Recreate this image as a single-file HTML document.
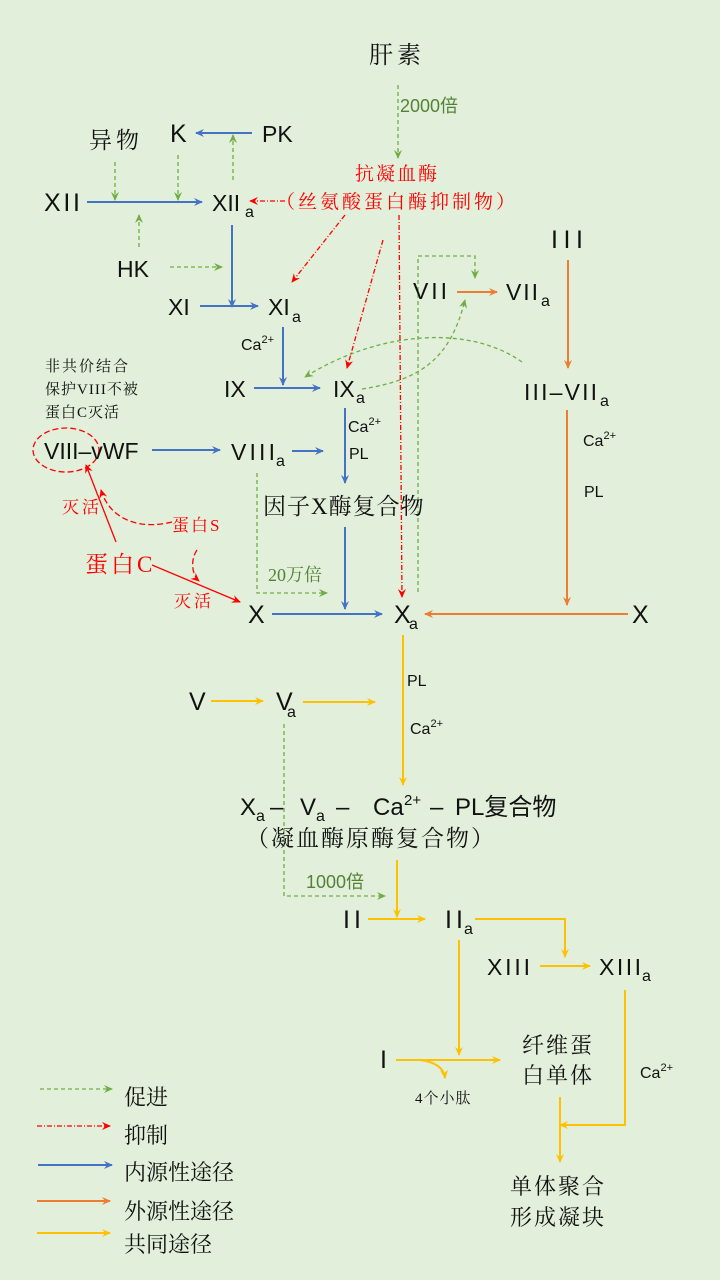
<!DOCTYPE html>
<html><head><meta charset="utf-8"><style>
html,body{margin:0;padding:0;background:#e2efda;}
svg{display:block;}
text{font-family:"Liberation Sans","Noto Sans CJK SC",sans-serif;fill:#111;}
.n{font-size:25px;}
.m{font-size:23px;}
.cn{font-family:"Liberation Serif","Noto Serif CJK SC",serif;}
</style></head><body>
<svg width="720" height="1280" viewBox="0 0 720 1280" xmlns="http://www.w3.org/2000/svg">
<defs>
<marker id="g" markerWidth="10" markerHeight="10" refX="8" refY="5" orient="auto" markerUnits="userSpaceOnUse"><path d="M0,1 L9,5 L0,9 L3,5z" fill="#70ad47"/></marker>
<marker id="r" markerWidth="10" markerHeight="10" refX="8" refY="5" orient="auto" markerUnits="userSpaceOnUse"><path d="M0,1 L9,5 L0,9 L3,5z" fill="#ff0000"/></marker>
<marker id="b" markerWidth="10" markerHeight="10" refX="8" refY="5" orient="auto" markerUnits="userSpaceOnUse"><path d="M0,1 L9,5 L0,9 L3,5z" fill="#4472c4"/></marker>
<marker id="o" markerWidth="10" markerHeight="10" refX="8" refY="5" orient="auto" markerUnits="userSpaceOnUse"><path d="M0,1 L9,5 L0,9 L3,5z" fill="#ed7d31"/></marker>
<marker id="y" markerWidth="10" markerHeight="10" refX="8" refY="5" orient="auto" markerUnits="userSpaceOnUse"><path d="M0,1 L9,5 L0,9 L3,5z" fill="#ffc000"/></marker>
</defs>
<rect width="720" height="1280" fill="#e2efda"/>

<g fill="none" stroke-width="1.3">
<g stroke="#70ad47" stroke-dasharray="4,3">
<path d="M398,85 V158" marker-end="url(#g)"/>
<path d="M233,180 V135" marker-end="url(#g)"/>
<path d="M115,162 V200" marker-end="url(#g)"/>
<path d="M178,155 V200" marker-end="url(#g)"/>
<path d="M139,247 V215" marker-end="url(#g)"/>
<path d="M170,267 H222" marker-end="url(#g)"/>
<path d="M418,592 V256 H475 V278" marker-end="url(#g)"/>
<path d="M522,362 C470,325 380,330 305,377" marker-end="url(#g)"/>
<path d="M362,389 C420,380 450,360 465,300" marker-end="url(#g)"/>
<path d="M257,473 V593 H327" marker-end="url(#g)"/>
<path d="M284,724 V896 H385" marker-end="url(#g)"/>
<path d="M40,1089 H112" marker-end="url(#g)"/>
</g>
<g stroke="#ff0000" stroke-dasharray="5,2,1,2">
<path d="M285,201 H250" marker-end="url(#r)"/>
<path d="M345,215 L292,282" marker-end="url(#r)"/>
<path d="M383,240 L347,368" marker-end="url(#r)"/>
<path d="M399,215 L402,597" marker-end="url(#r)"/>
<path d="M37,1126 H110" marker-end="url(#r)"/>
</g>
<g stroke="#ff0000" stroke-dasharray="6,3">
<ellipse cx="66" cy="450" rx="33" ry="22"/>
<path d="M172,522 C140,530 110,520 101,490" marker-end="url(#r)"/>
<path d="M197,550 C190,560 192,575 199,581" marker-end="url(#r)"/>
</g>
<g stroke="#ff0000">
<path d="M116,542 L86,465" marker-end="url(#r)"/>
<path d="M152,565 L240,602" marker-end="url(#r)"/>
</g>
<g stroke="#4472c4" stroke-width="2">
<path d="M252,133 H196" marker-end="url(#b)"/>
<path d="M87,202 H202" marker-end="url(#b)"/>
<path d="M232,225 V307" marker-end="url(#b)"/>
<path d="M200,306 H258" marker-end="url(#b)"/>
<path d="M283,327 V385" marker-end="url(#b)"/>
<path d="M254,388 H320" marker-end="url(#b)"/>
<path d="M345,408 V483" marker-end="url(#b)"/>
<path d="M152,450 H220" marker-end="url(#b)"/>
<path d="M292,451 H323" marker-end="url(#b)"/>
<path d="M345,527 V609" marker-end="url(#b)"/>
<path d="M272,614 H382" marker-end="url(#b)"/>
<path d="M38,1165 H112" marker-end="url(#b)"/>
</g>
<g stroke="#ed7d31" stroke-width="2">
<path d="M457,292 H497" marker-end="url(#o)"/>
<path d="M568,260 V368" marker-end="url(#o)"/>
<path d="M567,410 V605" marker-end="url(#o)"/>
<path d="M628,614 H425" marker-end="url(#o)"/>
<path d="M37,1201 H110" marker-end="url(#o)"/>
</g>
<g stroke="#ffc000" stroke-width="2">
<path d="M403,635 V785" marker-end="url(#y)"/>
<path d="M211,701 H263" marker-end="url(#y)"/>
<path d="M303,702 H375" marker-end="url(#y)"/>
<path d="M397,860 V917" marker-end="url(#y)"/>
<path d="M368,919 H425" marker-end="url(#y)"/>
<path d="M475,919 H565 V957" marker-end="url(#y)"/>
<path d="M540,966 H590" marker-end="url(#y)"/>
<path d="M459,940 V1055" marker-end="url(#y)"/>
<path d="M396,1060 H500" marker-end="url(#y)"/>
<path d="M420,1060 C435,1062 444,1068 445,1078" marker-end="url(#y)"/>
<path d="M625,990 V1125 H560" marker-end="url(#y)"/>
<path d="M560,1097 V1162" marker-end="url(#y)"/>
<path d="M37,1233 H110" marker-end="url(#y)"/>
</g>
</g>

<text x="397" y="63" font-size="24" text-anchor="middle" class="cn" letter-spacing="4">肝素</text>
<text x="400" y="112" font-size="18" style="fill:#548235">2000倍</text>
<text x="397" y="180" font-size="19" text-anchor="middle" style="fill:#ff0000" class="cn" letter-spacing="2">抗凝血酶</text>
<text x="397" y="208" font-size="19" text-anchor="middle" style="fill:#ff0000" class="cn" letter-spacing="3">（丝氨酸蛋白酶抑制物）</text>

<text x="89" y="148" font-size="23" class="cn" letter-spacing="4">异物</text>
<text x="170" y="142" class="n">K</text>
<text x="262" y="142" class="m">PK</text>
<text x="44" y="211" class="n" textLength="36" lengthAdjust="spacing">XII</text>
<text x="212" y="211" class="m">XII</text><text x="245" y="217" font-size="16">a</text>
<text x="117" y="277" class="m">HK</text>
<text x="168" y="315" class="m">XI</text>
<text x="268" y="315" class="m">XI</text><text x="292" y="322" font-size="16">a</text>
<text x="241" y="350" font-size="16">Ca<tspan font-size="11" dy="-7">2+</tspan></text>
<text x="224" y="397" class="m">IX</text>
<text x="333" y="397" class="m">IX</text><text x="356" y="403" font-size="16">a</text>
<text x="348" y="432" font-size="16">Ca<tspan font-size="11" dy="-7">2+</tspan></text>
<text x="349" y="459" font-size="16">PL</text>
<text x="413" y="299" class="m" textLength="34" lengthAdjust="spacing">VII</text>
<text x="506" y="300" class="m" textLength="32" lengthAdjust="spacing">VII</text><text x="541" y="306" font-size="16">a</text>
<text x="551" y="248" class="n" textLength="32" lengthAdjust="spacing">III</text>
<text x="524" y="400" class="m" textLength="73" lengthAdjust="spacing">III–VII</text><text x="600" y="406" font-size="16">a</text>
<text x="583" y="446" font-size="16">Ca<tspan font-size="11" dy="-7">2+</tspan></text>
<text x="584" y="497" font-size="16">PL</text>

<text x="45" y="371" font-size="15" class="cn" letter-spacing="2">非共价结合</text>
<text x="45" y="394" font-size="15" class="cn" letter-spacing="1">保护VIII不被</text>
<text x="45" y="417" font-size="15" class="cn" letter-spacing="1">蛋白C灭活</text>
<text x="44" y="459" class="m">VIII–vWF</text>
<text x="231" y="460" class="m" textLength="44" lengthAdjust="spacing">VIII</text><text x="276" y="466" font-size="16">a</text>
<text x="263" y="514" font-size="23" class="cn" letter-spacing="1">因子X酶复合物</text>
<text x="62" y="513" font-size="17" style="fill:#ff0000" class="cn" letter-spacing="3">灭活</text>
<text x="172" y="531" font-size="17" style="fill:#ff0000" class="cn" letter-spacing="2">蛋白S</text>
<text x="85" y="572" font-size="23" style="fill:#ff0000" class="cn" letter-spacing="3">蛋白C</text>
<text x="174" y="607" font-size="17" style="fill:#ff0000" class="cn" letter-spacing="3">灭活</text>
<text x="268" y="581" font-size="18" style="fill:#548235" class="cn">20万倍</text>
<text x="248" y="623" class="n">X</text>
<text x="394" y="623" class="n">X</text><text x="409" y="629" font-size="16">a</text>
<text x="632" y="623" class="n">X</text>
<text x="407" y="686" font-size="16">PL</text>
<text x="410" y="734" font-size="16">Ca<tspan font-size="11" dy="-7">2+</tspan></text>
<text x="189" y="710" class="n">V</text>
<text x="276" y="710" class="n">V</text><text x="287" y="717" font-size="16">a</text>

<text x="240" y="815" font-size="24">X</text><text x="256" y="821" font-size="16">a</text>
<text x="270" y="815" font-size="24">–</text>
<text x="300" y="815" font-size="24">V</text><text x="316" y="821" font-size="16">a</text>
<text x="336" y="815" font-size="24">–</text>
<text x="373" y="815" font-size="24">Ca</text><text x="404" y="805" font-size="15">2+</text>
<text x="430" y="815" font-size="24">–</text>
<text x="455" y="815" font-size="24">PL复合物</text>
<text x="246" y="846" font-size="23" class="cn" letter-spacing="2">（凝血酶原酶复合物）</text>
<text x="306" y="888" font-size="18" style="fill:#548235">1000倍</text>
<text x="343" y="928" class="n" textLength="18" lengthAdjust="spacing">II</text>
<text x="445" y="928" class="n" textLength="18" lengthAdjust="spacing">II</text><text x="464" y="934" font-size="16">a</text>
<text x="487" y="975" class="m" textLength="43" lengthAdjust="spacing">XIII</text>
<text x="599" y="975" class="m" textLength="42" lengthAdjust="spacing">XIII</text><text x="642" y="981" font-size="16">a</text>
<text x="380" y="1068" class="n">I</text>
<text x="415" y="1103" font-size="15" class="cn" letter-spacing="1">4个小肽</text>
<text x="558" y="1053" font-size="22" text-anchor="middle" class="cn" letter-spacing="2">纤维蛋</text>
<text x="558" y="1083" font-size="22" text-anchor="middle" class="cn" letter-spacing="2">白单体</text>
<text x="640" y="1078" font-size="16">Ca<tspan font-size="11" dy="-7">2+</tspan></text>
<text x="558" y="1194" font-size="22" text-anchor="middle" class="cn" letter-spacing="2">单体聚合</text>
<text x="558" y="1225" font-size="22" text-anchor="middle" class="cn" letter-spacing="2">形成凝块</text>

<text x="124" y="1105" font-size="22" class="cn">促进</text>
<text x="124" y="1143" font-size="22" class="cn">抑制</text>
<text x="124" y="1180" font-size="22" class="cn">内源性途径</text>
<text x="124" y="1219" font-size="22" class="cn">外源性途径</text>
<text x="124" y="1252" font-size="22" class="cn">共同途径</text>
</svg>
</body></html>
